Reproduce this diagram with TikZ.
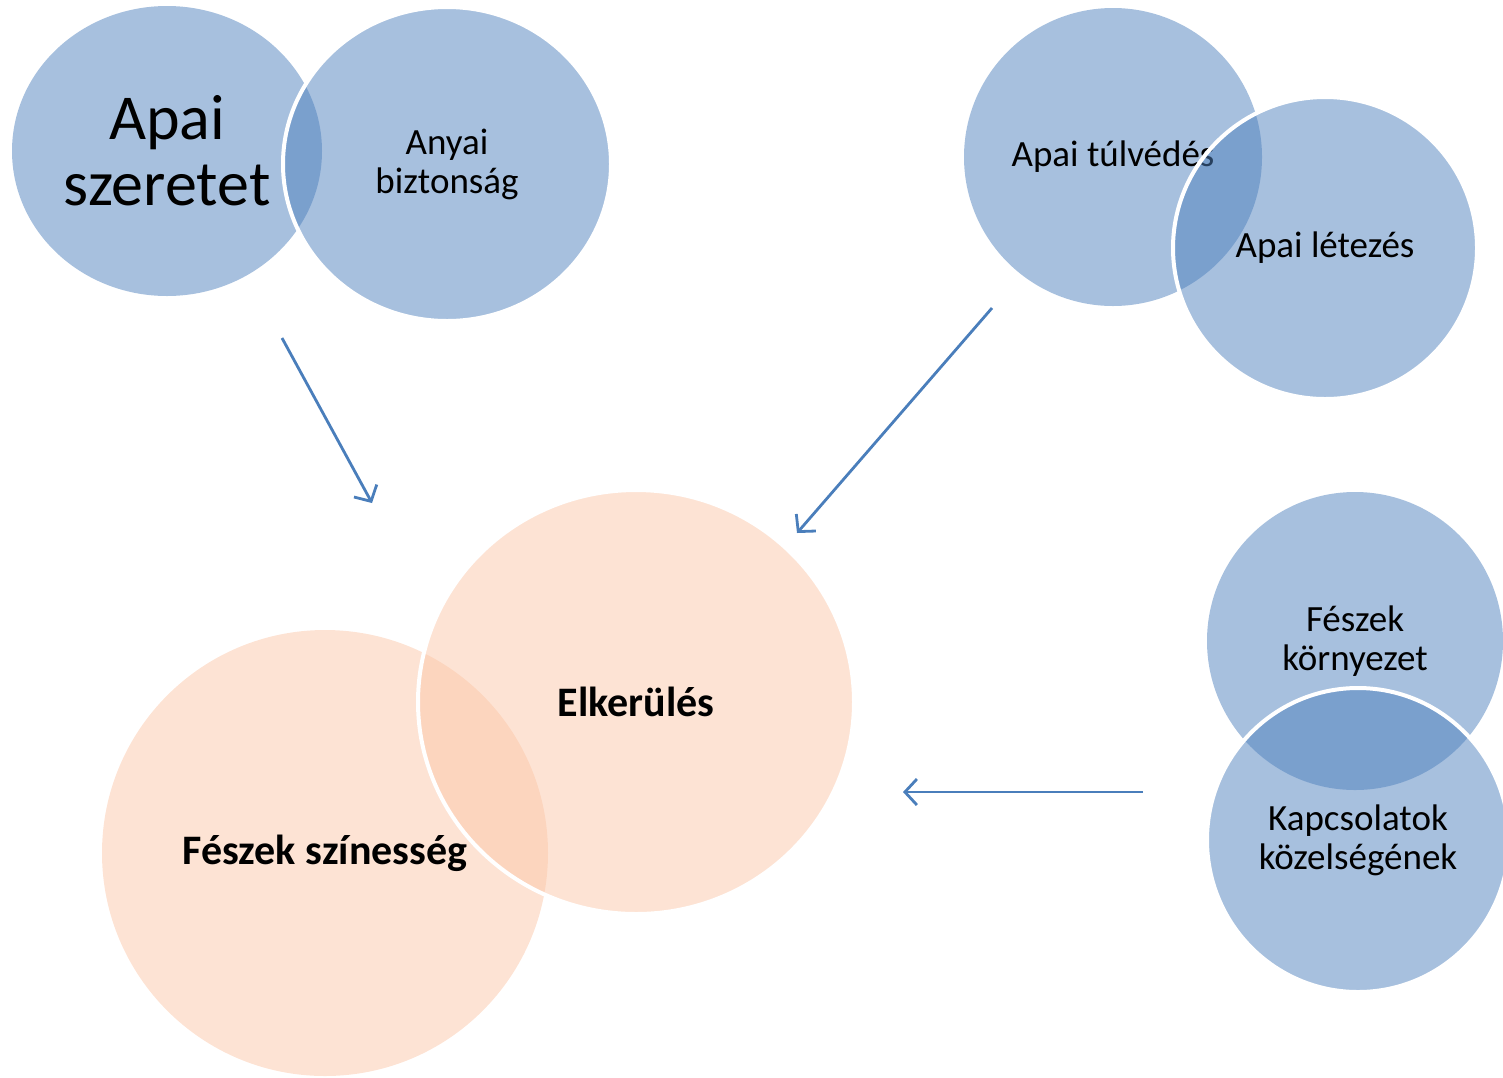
\documentclass[tikz,border=0pt]{standalone}
\usepackage{fontspec}
\setmainfont{Carlito}
\usetikzlibrary{shapes.geometric,arrows.meta}
\definecolor{bluebase}{HTML}{4F81BD}
\definecolor{peachbase}{HTML}{FBC7A9}
\definecolor{arrowblue}{HTML}{4A7EBB}
\tikzset{
  venn/.style={ellipse, inner sep=0pt, outer sep=0pt, fill opacity=0.5, text opacity=1, align=center, text=black},
  bluec/.style={venn, fill=bluebase},
  peachc/.style={venn, fill=peachbase},
  ontop/.style={draw=white, draw opacity=1, line width=4pt},
  regtxt/.style={font=\fontsize{37}{39}\selectfont},
  bigtxt/.style={font=\fontsize{64}{66}\selectfont},
  boldtxt/.style={font=\fontsize{42}{46}\selectfont\bfseries},
  flow/.style={draw=arrowblue, line width=2.8pt, -{Straight Barb[length=12pt,width=26pt]}}
}
\begin{document}
\begin{tikzpicture}[x=1pt,y=-1pt]
\useasboundingbox (0,0) rectangle (1503,1077);
% top-left pair
\node[bluec, bigtxt, minimum width=310pt, minimum height=290pt] (apai) at (167,151) {Apai\\szeretet};
\node[bluec, ontop, regtxt, minimum width=328pt, minimum height=314pt] (anyai) at (447,164) {Anyai\\biztonság};
% top-right pair
\node[bluec, regtxt, minimum width=298pt, minimum height=298pt] (tulved) at (1113,157) {Apai túlvédés};
\node[bluec, ontop, regtxt, minimum width=304pt, minimum height=302pt] (letez) at (1325,248) {Apai létezés};
% right pair
\node[bluec, regtxt, minimum width=296pt, minimum height=298pt] (kornyezet) at (1355,641) {Fészek\\környezet};
\node[bluec, ontop, regtxt, minimum width=302pt, minimum height=304pt] (kapcs) at (1358,840) {Kapcsolatok\\közelségének};
% centre pair
\node[peachc, boldtxt, minimum width=446pt, minimum height=446pt] (szines) at (325,853) {Fészek színesség};
\node[peachc, ontop, boldtxt, minimum width=436pt, minimum height=424pt] (elker) at (636,702) {Elkerülés};
% arrows
\coordinate (a1s) at (282,338); \coordinate (a1e) at (372,503);
\coordinate (a2s) at (992,308); \coordinate (a2e) at (797,533);
\coordinate (a3s) at (1143,792); \coordinate (a3e) at (903,792);
\draw[flow] (a1s) -- (a1e);
\draw[flow] (a2s) -- (a2e);
\draw[flow] (a3s) -- (a3e);
\end{tikzpicture}
\end{document}
